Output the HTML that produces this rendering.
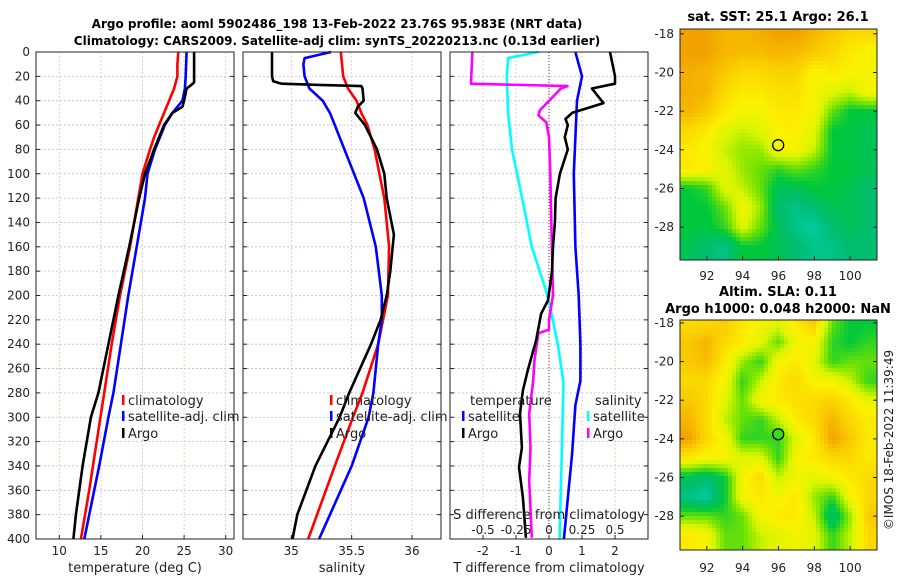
<!DOCTYPE html>
<html><head><meta charset="utf-8"><style>
html,body{margin:0;padding:0;background:#fff;}
svg text{font-family:"DejaVu Sans","Liberation Sans",sans-serif;fill:#222;}
.t{font-weight:bold;font-size:13px;fill:#000}
.tk{font-size:12px}
</style></head><body>
<svg id="c" width="900" height="580" viewBox="0 0 900 580" xmlns="http://www.w3.org/2000/svg">
<text class="t" x="337" y="28" text-anchor="middle" style="font-size:12px">Argo profile: aoml 5902486_198 13-Feb-2022 23.76S 95.983E (NRT data)</text>
<text class="t" x="337" y="45" text-anchor="middle" style="font-size:12px">Climatology: CARS2009. Satellite-adj clim: synTS_20220213.nc (0.13d earlier)</text>
<text class="t" x="778" y="21" text-anchor="middle">sat. SST: 25.1 Argo: 26.1</text>
<text class="t" x="778" y="296" text-anchor="middle">Altim. SLA: 0.11</text>
<text class="t" x="778" y="313" text-anchor="middle">Argo h1000: 0.048 h2000: NaN</text>
<text class="tk" x="0" y="0" transform="translate(893,440) rotate(-90)" text-anchor="middle">©IMOS 18-Feb-2022 11:39:49</text>
<g id="g"></g>
</svg>
<script>
// ---- profile data (depth in m) ----
const tClimD=[0,10,20,30,40,50,60,70,80,100,120,140,160,180,200,240,280,320,360,400];
const tClimV=[24.3,24.2,24.2,23.8,23.2,22.6,22.0,21.4,20.9,20.0,19.5,19.0,18.5,17.9,17.3,16.3,15.4,14.5,13.6,12.6];
const tSatD=[0,20,30,40,50,60,80,100,120,160,200,240,280,300,340,400];
const tSatV=[25.3,25.2,25.1,24.8,23.6,22.7,21.5,20.6,20.3,19.3,18.3,17.4,16.5,15.9,14.8,13.0];
const tArgoD=[0,20,25,28,30,40,45,50,60,80,100,120,160,200,240,280,300,340,380,400];
const tArgoV=[26.2,26.2,26.2,25.7,25.3,25.0,24.8,23.6,22.6,21.4,20.3,19.6,18.4,17.1,15.9,14.7,13.8,12.8,12.0,11.7];
const sClimD=[0,20,30,40,50,60,80,100,120,160,200,240,280,300,340,400];
const sClimV=[35.41,35.43,35.47,35.54,35.58,35.63,35.69,35.73,35.77,35.81,35.80,35.72,35.59,35.51,35.36,35.14];
const sSatD=[0,5,10,20,30,40,50,60,80,100,120,160,200,220,240,280,300,340,400];
const sSatV=[35.33,35.11,35.10,35.11,35.15,35.26,35.32,35.36,35.44,35.52,35.60,35.70,35.75,35.75,35.72,35.68,35.64,35.50,35.23];
const sArgoD=[0,20,24,26,27,28,30,40,45,50,60,70,80,100,120,150,180,200,220,240,280,300,340,380,400];
const sArgoV=[34.84,34.84,34.85,34.92,35.23,35.58,35.59,35.60,35.55,35.53,35.61,35.66,35.71,35.77,35.79,35.85,35.82,35.79,35.74,35.66,35.48,35.40,35.20,35.05,35.01];
const dTsD=[0,10,20,40,100,160,200,240,270,290,330,400];
const dTsV=[0.8,0.9,1.0,0.85,0.75,0.8,0.9,0.95,0.95,0.8,0.7,0.45];
const dTaD=[0,20,26,30,42,50,55,60,70,80,100,120,140,160,180,204,215,237,261,278,297,325,341,366,399];
const dTaV=[1.85,2.0,2.0,1.3,1.65,0.7,0.5,0.57,0.48,0.57,0.33,0.2,0.18,0.12,0.09,-0.03,-0.24,-0.39,-0.64,-0.79,-0.88,-0.82,-0.91,-0.79,-0.7];
const dSsD=[0,5,20,50,80,122,160,197,210,242,272,400];
const dSsV=[-0.08,-0.31,-0.32,-0.31,-0.28,-0.2,-0.13,-0.02,0.01,0.07,0.11,0.08];
const dSaD=[0,23,26,28,30,48,52,58,70,100,150,200,220,228,231,253,270,297,325,352,399];
const dSaV=[-0.58,-0.59,-0.59,0.14,0.09,-0.07,-0.08,-0.02,0.0,0.01,0.02,0.03,0.0,0.0,-0.08,-0.11,-0.12,-0.15,-0.14,-0.15,-0.13];
const depthTicks=[0,20,40,60,80,100,120,140,160,180,200,220,240,260,280,300,320,340,360,380,400];
const tTicks=[10,15,20,25,30];
const sTicks=[35,35.5,36];
const dTTicks=[-2,-1,0,1,2];
const dSTicks=[-0.5,-0.25,0,0.25,0.5];
const dSTickLabels=["-0.5","-0.25","0","0.25","0.5"];
// ---- map data (rows north->south, cols west->east) ----
const sstGrid=[
[.85,.85,.8,.8,.82,.85,.85,.8,.75,.7,.7],
[.85,.85,.8,.78,.78,.8,.78,.75,.7,.65,.6],
[.82,.8,.75,.7,.7,.72,.72,.6,.65,.62,.6],
[.82,.8,.7,.65,.65,.68,.68,.6,.55,.5,.6],
[.8,.75,.65,.6,.6,.65,.65,.6,.4,.3,.3],
[.7,.65,.55,.5,.55,.62,.62,.55,.3,.3,.25],
[.65,.6,.5,.45,.45,.6,.6,.5,.3,.28,.25],
[.65,.62,.55,.45,.4,.35,.4,.35,.3,.3,.25],
[.3,.35,.55,.5,.4,.25,.25,.3,.3,.25,.2],
[.3,.3,.4,.6,.45,.2,.15,.2,.25,.25,.2],
[.3,.28,.35,.55,.4,.25,.15,.1,.2,.25,.2],
[.25,.2,.15,.3,.3,.25,.2,.15,.15,.2,.2]];
const slaGrid=[
[.7,.7,.75,.65,.6,.55,.65,.75,.4,.3,.3],
[.75,.8,.7,.65,.55,.4,.6,.6,.35,.3,.35],
[.75,.78,.65,.45,.35,.6,.65,.55,.35,.4,.4],
[.7,.7,.6,.35,.5,.65,.7,.6,.6,.5,.35],
[.75,.7,.55,.4,.6,.65,.68,.7,.72,.65,.55],
[.8,.7,.5,.4,.35,.5,.65,.7,.8,.7,.65],
[.85,.7,.6,.35,.35,.35,.55,.65,.85,.75,.65],
[.65,.6,.6,.55,.55,.35,.6,.65,.7,.7,.65],
[.25,.2,.3,.6,.7,.5,.6,.55,.6,.65,.7],
[.15,.1,.3,.6,.65,.6,.65,.45,.35,.6,.7],
[.4,.4,.35,.4,.6,.65,.65,.5,.2,.45,.75],
[.65,.6,.4,.4,.5,.55,.6,.55,.35,.5,.7]];
const latTicks=[-18,-20,-22,-24,-26,-28];
const lonTicks=[92,94,96,98,100];
const argoLon=95.983, argoLat=-23.76;

const NS="http://www.w3.org/2000/svg";
const G=document.getElementById('g');
function mk(tag,attrs,parent){const e=document.createElementNS(NS,tag);for(const k in attrs)e.setAttribute(k,attrs[k]);(parent||G).appendChild(e);return e;}
function txt(x,y,s,anchor,cls,parent){const e=mk('text',{x:x,y:y,'text-anchor':anchor||'start','class':cls||'tk'},parent);e.textContent=s;return e;}

const yTop=52,yBot=539;
const yD=d=>yTop+(d/400)*(yBot-yTop);
const panels=[
 {name:'temperature-panel',x0:36,x1:234,v0:7.2,v1:31,ticks:tTicks,labels:tTicks.map(String),title:'temperature (deg C)'},
 {name:'salinity-panel',x0:243,x1:441,v0:34.6,v1:36.24,ticks:sTicks,labels:["35","35.5","36"],title:'salinity'},
 {name:'difference-panel',x0:450,x1:648,v0:-3,v1:3,ticks:dTTicks,labels:dTTicks.map(String),title:'T difference from climatology'}];
panels.forEach((p,i)=>{
  p.sx=v=>p.x0+(v-p.v0)/(p.v1-p.v0)*(p.x1-p.x0);
  const g=mk('g',{});
  
  
  depthTicks.forEach(d=>{mk('line',{x1:p.x0,x2:p.x1,y1:yD(d),y2:yD(d),stroke:'#b8bde8','stroke-width':0.8,'stroke-dasharray':'2,2'},g);
    mk('line',{x1:p.x0,x2:p.x0+4,y1:yD(d),y2:yD(d),stroke:'#222'},g);mk('line',{x1:p.x1,x2:p.x1-4,y1:yD(d),y2:yD(d),stroke:'#222'},g);
    if(i==0)txt(30,yD(d)+4,String(d),'end','tk',g);});
  p.ticks.forEach((t,k)=>{const x=p.sx(t);
    mk('line',{x1:x,x2:x,y1:yTop,y2:yBot,stroke:'#e8c0b0','stroke-width':0.8,'stroke-dasharray':'2,2'},g);
    mk('line',{x1:x,x2:x,y1:yBot,y2:yBot-4,stroke:'#222'},g);
    txt(x,555,p.labels[k],'middle','tk',g);});
  txt((p.x0+p.x1)/2,572,p.title,'middle','tk',g).setAttribute('style','font-size:13px');
  p.g=g;
});
const P1=panels[0],P2=panels[1],P3=panels[2];
const sS=v=>P3.sx(v*4);
mk('line',{x1:P3.sx(0),x2:P3.sx(0),y1:yTop,y2:yBot,stroke:'#4a4a20','stroke-width':1,'stroke-dasharray':'1,2'},P3.g);
function line(g,D,V,sx,col,name){const pts=D.map((d,k)=>sx(V[k]).toFixed(1)+','+yD(d).toFixed(1)).join(' ');
  const e=mk('polyline',{points:pts,fill:'none',stroke:col,'stroke-width':2.6,'stroke-linejoin':'round'},g);
  
  }
line(P1.g,tClimD,tClimV,P1.sx,'#f00','temp-climatology-line');
line(P1.g,tSatD,tSatV,P1.sx,'#00f','temp-satellite-line');
line(P1.g,tArgoD,tArgoV,P1.sx,'#000','temp-argo-line');
line(P2.g,sClimD,sClimV,P2.sx,'#f00','sal-climatology-line');
line(P2.g,sSatD,sSatV,P2.sx,'#00f','sal-satellite-line');
line(P2.g,sArgoD,sArgoV,P2.sx,'#000','sal-argo-line');
line(P3.g,dSsD,dSsV,sS,'#0ff','sdiff-satellite-line');
line(P3.g,dSaD,dSaV,sS,'#f0f','sdiff-argo-line');
line(P3.g,dTsD,dTsV,P3.sx,'#00f','tdiff-satellite-line');
line(P3.g,dTaD,dTaV,P3.sx,'#000','tdiff-argo-line');
panels.forEach(p=>mk('rect',{x:p.x0,y:yTop,width:p.x1-p.x0,height:yBot-yTop,fill:'none',stroke:'#222','stroke-width':1},p.g));
txt(549,519,'S difference from climatology','middle','tk',P3.g).setAttribute('style','font-size:13px');
dSTicks.forEach((t,k)=>txt(sS(t),534,dSTickLabels[k],'middle','tk',P3.g));
function leg(x,y,col,label,name){const g=mk('g',{});
  
  
  mk('rect',{x:x,y:y-10,width:2.5,height:10,fill:col},g);txt(x+6,y,label,'start','tk',g).setAttribute('style','font-size:13px');}
leg(122,405,'#f00','climatology','legend-temp-climatology');
leg(122,421,'#00f','satellite-adj. clim','legend-temp-satellite');
leg(122,438,'#000','Argo','legend-temp-argo');
leg(330,405,'#f00','climatology','legend-sal-climatology');
leg(330,421,'#00f','satellite-adj. clim','legend-sal-satellite');
leg(330,438,'#000','Argo','legend-sal-argo');
txt(470,405,'temperature','start','tk',P3.g).setAttribute('style','font-size:13px');
txt(595,405,'salinity','start','tk',P3.g).setAttribute('style','font-size:13px');
leg(462,421,'#00f','satellite','legend-tdiff-satellite');
leg(462,438,'#000','Argo','legend-tdiff-argo');
leg(587,421,'#0ff','satellite','legend-sdiff-satellite');
leg(587,438,'#f0f','Argo','legend-sdiff-argo');
const cstops=[[0,[0,215,215]],[0.2,[0,190,110]],[0.3,[0,200,60]],[0.42,[120,228,0]],[0.52,[215,245,0]],[0.62,[252,242,0]],[0.74,[250,205,0]],[0.85,[242,162,0]],[1,[220,120,0]]];
function cmap(v){for(let i=1;i<cstops.length;i++){if(v<=cstops[i][0]){const a=cstops[i-1],b=cstops[i],f=(v-a[0])/(b[0]-a[0]);
  return 'rgb('+a[1].map((c,k)=>Math.round(c+(b[1][k]-c)*f)).join(',')+')';}}return 'rgb(220,120,0)';}
function bil(grid,r,c){const R=grid.length-1,C=grid[0].length-1;r=Math.max(0,Math.min(R,r));c=Math.max(0,Math.min(C,c));
  const r0=Math.floor(r),c0=Math.floor(c),r1=Math.min(R,r0+1),c1=Math.min(C,c0+1),fr=r-r0,fc=c-c0;
  return grid[r0][c0]*(1-fr)*(1-fc)+grid[r0][c1]*(1-fr)*fc+grid[r1][c0]*fr*(1-fc)+grid[r1][c1]*fr*fc;}
function drawMap(name,grid,x0,x1,y0,y1,lat0,lat1,lon0,lon1,cell,filled,lonY){
  const g=mk('g',{});
  
  
  const sx=lon=>x0+(lon-lon0)/(lon1-lon0)*(x1-x0), sy=lat=>y0+(lat0-lat)/(lat0-lat1)*(y1-y0);
  for(let y=y0;y<y1;y+=cell)for(let x=x0;x<x1;x+=cell){
    const lat=lat0-(y+cell/2-y0)/(y1-y0)*(lat0-lat1), lon=lon0+(x+cell/2-x0)/(x1-x0)*(lon1-lon0);
    const r=(-18-lat), c=(lon-91);
    mk('rect',{x:x,y:y,width:Math.min(cell,x1-x)+0.3,height:Math.min(cell,y1-y)+0.3,fill:cmap(bil(grid,r,c))},g);}
  mk('rect',{x:x0,y:y0,width:x1-x0,height:y1-y0,fill:'none',stroke:'#222'},g);
  latTicks.forEach(t=>{const y=sy(t);mk('line',{x1:x0,x2:x0+4,y1:y,y2:y,stroke:'#222'},g);mk('line',{x1:x1,x2:x1-4,y1:y,y2:y,stroke:'#222'},g);txt(x0-6,y+4,String(t),'end','tk',g);});
  lonTicks.forEach(t=>{const x=sx(t);mk('line',{x1:x,x2:x,y1:y1,y2:y1-4,stroke:'#222'},g);txt(x,lonY,String(t),'middle','tk',g);});
  const m=mk('circle',{cx:sx(argoLon),cy:sy(argoLat),r:5.5,fill:filled?'#33dd22':'none',stroke:'#000','stroke-width':1.3},g);
  
  
}
drawMap('sst-map',sstGrid,680,877,29,260,-17.75,-29.7,90.5,101.5,4,false,280);
drawMap('sla-map',slaGrid,680,877,320,550,-17.85,-29.75,90.5,101.5,4,true,572);
</script>
</body></html>
